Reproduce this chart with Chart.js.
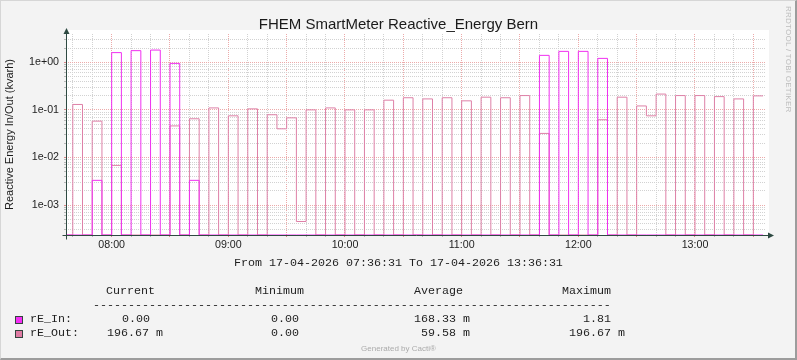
<!DOCTYPE html>
<html>
<head>
<meta charset="utf-8">
<script src="https://cdn.jsdelivr.net/npm/chart.js@4/dist/chart.umd.min.js"></script>
<style>
  html,body{margin:0;padding:0;background:#f3f3f3;}
  #wrap{position:relative;width:797px;height:360px;background:#f3f3f3;overflow:hidden;}
  #c{position:absolute;left:0;top:0;}
  .txt{position:absolute;white-space:pre;color:#1e1e1e;}
  .mono{font-family:'Liberation Mono','DejaVu Sans Mono',monospace;font-size:11.67px;line-height:14px;}
  .r{text-align:right;}
  .box{position:absolute;width:6px;height:6px;border:1px solid #34443e;}
  #frame{position:absolute;left:0;top:0;width:797px;height:360px;box-sizing:border-box;
    border-top:1px solid #d6d6d6;border-left:1px solid #d6d6d6;border-right:2px solid #9c9c9c;border-bottom:2px solid #9c9c9c;pointer-events:none;}
</style>
</head>
<body>
<div id="wrap">
  <canvas id="c" width="797" height="360"></canvas>
  <div class="txt" id="title" style="left:0;top:15.6px;width:797px;text-align:center;font-family:'Liberation Sans',Arial,sans-serif;font-size:15px;line-height:15px;color:#1a1a1a;">FHEM SmartMeter Reactive_Energy Bern</div>
  <div class="txt mono" style="left:0;top:255.6px;width:797px;text-align:center;">From 17-04-2026 07:36:31 To 17-04-2026 13:36:31</div>

  <div class="txt mono r" style="right:642px;top:284px;">Current</div>
  <div class="txt mono r" style="right:493px;top:284px;">Minimum</div>
  <div class="txt mono r" style="right:334px;top:284px;">Average</div>
  <div class="txt mono r" style="right:186px;top:284px;">Maximum</div>
  <div class="txt mono" style="left:93px;top:297.5px;">--------------------------------------------------------------------------</div>

  <div class="box" style="left:15px;top:316px;background:#f52ff5;"></div>
  <div class="txt mono" style="left:30px;top:312px;">rE_In:</div>
  <div class="txt mono r" style="right:647px;top:312px;">0.00</div>
  <div class="txt mono r" style="right:498px;top:312px;">0.00</div>
  <div class="txt mono r" style="right:327px;top:312px;">168.33 m</div>
  <div class="txt mono r" style="right:186px;top:312px;">1.81</div>

  <div class="box" style="left:15px;top:330px;background:#e07ca4;"></div>
  <div class="txt mono" style="left:30px;top:326px;">rE_Out:</div>
  <div class="txt mono r" style="right:634px;top:326px;">196.67 m</div>
  <div class="txt mono r" style="right:498px;top:326px;">0.00</div>
  <div class="txt mono r" style="right:327px;top:326px;">59.58 m</div>
  <div class="txt mono r" style="right:172px;top:326px;">196.67 m</div>

  <div class="txt" style="left:0;top:344px;width:797px;text-align:center;font-family:'Liberation Sans',Arial,sans-serif;font-size:8px;line-height:10px;color:#ababab;">Generated by Cacti®</div>
  <div class="txt" style="left:791.5px;top:6px;transform-origin:0 0;transform:rotate(90deg);font-family:'Liberation Sans',Arial,sans-serif;font-size:8px;line-height:8px;color:#bdbdbd;letter-spacing:0.25px;">RRDTOOL / TOBI OETIKER</div>
  <div id="frame"></div>
</div>
<script>
// ---- data (5-minute RRD slots; each value covers the 5 minutes ending at the time) ----
const times = ["07:35","07:40","07:45","07:50","07:55",
  "08:00","08:05","08:10","08:15","08:20","08:25","08:30","08:35","08:40","08:45","08:50","08:55",
  "09:00","09:05","09:10","09:15","09:20","09:25","09:30","09:35","09:40","09:45","09:50","09:55",
  "10:00","10:05","10:10","10:15","10:20","10:25","10:30","10:35","10:40","10:45","10:50","10:55",
  "11:00","11:05","11:10","11:15","11:20","11:25","11:30","11:35","11:40","11:45","11:50","11:55",
  "12:00","12:05","12:10","12:15","12:20","12:25","12:30","12:35","12:40","12:45","12:50","12:55",
  "13:00","13:05","13:10","13:15","13:20","13:25","13:30","13:35"];
const rEIn = [0,0,0,0,0.0033,
  0,1.6,0,1.76,0,1.81,0,0.95,0,0.0033,0,0,
  0,0,0,0,0,0,0,0,0,0,0,0,
  0,0,0,0,0,0,0,0,0,0,0,0,
  0,0,0,0,0,0,0,0,0,1.40,0,1.70,
  0,1.70,0,1.21,0,0,0,0,0,0,0,0,
  0,0,0,0,0,0,0,0];
const rEOut = [0,0,0.13,0,0.058,
  0,0.0068,0,0,0,0,0,0.046,0,0.065,0,0.11,
  0,0.075,0,0.105,0,0.079,0.040,0.068,0.00045,0.1,0,0.11,
  0,0.1,0,0.1,0,0.16,0,0.18,0,0.17,0,0.18,
  0,0.155,0,0.185,0,0.18,0,0.2,0,0.032,0,0,
  0,0,0,0.062,0,0.185,0,0.121,0.075,0.215,0,0.2,
  0,0.2,0,0.19,0,0.17,0,0.197];
const xTickLabels = ["08:00","09:00","10:00","11:00","12:00","13:00"];
const yTickLabels = ["1e+00","1e-01","1e-02","1e-03"];
const rangeStart = "07:36:31", rangeEnd = "13:36:31";
const yRange = [2.34e-4, 3.94];

// ---- helpers ----
function toMin(s){ const p = s.split(':').map(Number); return p[0]*60 + p[1] + (p[2]||0)/60; }
const X_MIN = toMin(rangeStart), X_MAX = toMin(rangeEnd);
const Y_MIN = yRange[0], Y_MAX = yRange[1];
const pts = arr => times.map((t,i) => ({x: toMin(t), y: arr[i] > 0 ? arr[i] : Y_MIN}));

const MINOR = '#d2d2d2', MAJOR = '#ecaaaa', AXIS = '#2e4a42';
const isDecade = v => { const e = Math.round(Math.log10(v)); return Math.abs(v/Math.pow(10,e) - 1) < 1e-6; };

const deco = {
  id:'deco',
  beforeDraw(chart){
    const {ctx, chartArea:a} = chart;
    ctx.save(); ctx.fillStyle = '#ffffff';
    ctx.fillRect(a.left, a.top - 4, a.right - a.left + 3, a.bottom - a.top + 4);
    ctx.restore();
  },
  afterDraw(chart){
    const {ctx, chartArea:a} = chart;
    ctx.save();
    ctx.strokeStyle = AXIS; ctx.fillStyle = AXIS; ctx.lineWidth = 1;
    const ax = Math.round(a.left) + 0.5, ay = Math.round(a.bottom) + 0.5;
    ctx.beginPath(); ctx.moveTo(ax, ay + 4); ctx.lineTo(ax, a.top - 3); ctx.stroke();
    ctx.beginPath(); ctx.moveTo(ax - 4, ay); ctx.lineTo(a.right + 4, ay); ctx.stroke();
    ctx.beginPath(); ctx.moveTo(ax - 3, a.top); ctx.lineTo(ax + 3, a.top); ctx.lineTo(ax, a.top - 6); ctx.closePath(); ctx.fill();
    ctx.beginPath(); ctx.moveTo(a.right + 2, ay - 3); ctx.lineTo(a.right + 2, ay + 3); ctx.lineTo(a.right + 8, ay); ctx.closePath(); ctx.fill();
    ctx.restore();
  }
};

Chart.defaults.font.family = "'Liberation Sans', Arial, sans-serif";
Chart.defaults.color = '#1e1e1e';

new Chart(document.getElementById('c'), {
  type: 'line',
  data: {
    datasets: [
      {label:'rE_In', data: pts(rEIn), borderColor:'#f030f0', borderWidth:1, stepped:'after', pointRadius:0, fill:false},
      {label:'rE_Out', data: pts(rEOut), borderColor:'#de80a7', borderWidth:1, stepped:'after', pointRadius:0, fill:false}
    ]
  },
  options: {
    responsive:false, animation:false, devicePixelRatio:1,
    layout:{padding:{left:0, top:34, right:31, bottom:0}},
    plugins:{legend:{display:false}, tooltip:{enabled:false}, title:{display:false}},
    scales:{
      x:{
        type:'linear', min:X_MIN, max:X_MAX,
        afterFit(s){ s.height = 125; },
        afterBuildTicks(s){
          const t = [];
          for (let v = Math.ceil(X_MIN/10)*10; v <= X_MAX; v += 10) t.push({value:v});
          s.ticks = t;
        },
        ticks:{
          autoSkip:false, maxRotation:0, padding:1.5, color:'#1e1e1e', font:{size:10.67},
          callback(v){ const l = xTickLabels.find(s => Math.abs(toMin(s) - v) < 1e-6); return l || ''; }
        },
        grid:{
          drawTicks:true, tickLength:2,
          color(ctx){ const v = ctx.tick ? ctx.tick.value : 0; return Math.abs(v % 30) < 1e-6 ? MAJOR : MINOR; },
          tickColor(ctx){ const v = ctx.tick ? ctx.tick.value : 0; return Math.abs(v % 30) < 1e-6 ? '#d98a8a' : '#b8b8b8'; }
        },
        border:{display:false, dash:[1,1]}
      },
      y:{
        type:'logarithmic', min:Y_MIN, max:Y_MAX,
        afterFit(s){ s.width = 66; },
        afterBuildTicks(s){
          const t = [];
          for (let e = -5; e <= 1; e++) for (let m = 1; m <= 9; m++) {
            const v = m * Math.pow(10, e);
            if (v >= Y_MIN && v <= Y_MAX) t.push({value:v});
          }
          s.ticks = t;
        },
        ticks:{
          autoSkip:false, padding:5, color:'#1e1e1e', font:{size:10.67},
          callback(v){ const l = yTickLabels.find(s => Math.abs(parseFloat(s) - v) / v < 1e-6); return l || ''; }
        },
        grid:{
          drawTicks:true, tickLength:2,
          color(ctx){ const v = ctx.tick ? ctx.tick.value : 1; return isDecade(v) ? MAJOR : MINOR; },
          tickColor(ctx){ const v = ctx.tick ? ctx.tick.value : 1; return isDecade(v) ? '#d98a8a' : '#b8b8b8'; }
        },
        border:{display:false, dash:[1,1]},
        title:{display:true, text:'Reactive Energy In/Out (kvarh)', color:'#1a1a1a', font:{size:11}, padding:{top:3.3, bottom:0}}
      }
    }
  },
  plugins:[deco]
});
</script>
</body>
</html>
